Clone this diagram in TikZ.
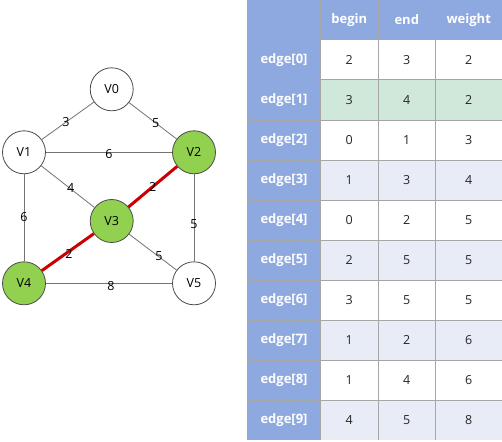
\documentclass[tikz,border=0pt]{standalone}
\usepackage{fontspec}
\setmainfont{Open Sans}
\begin{document}
\begin{tikzpicture}[x=1pt,y=-1pt,
  vtx/.style={circle,draw=black!70,line width=0.8pt,minimum size=43pt,inner sep=0pt,font=\fontsize{12.5}{12.5}\selectfont},
  edg/.style={draw=black!55,line width=0.8pt},
  redg/.style={draw=red!80!black,line width=3pt},
  wl/.style={font=\fontsize{12.5}{12.5}\selectfont,inner sep=0pt},
  hd/.style={font=\fontsize{13}{13}\selectfont\bfseries,text=white},
  cell/.style={font=\fontsize{12.5}{12.5}\selectfont,text=black!85}]
\definecolor{vgreen}{HTML}{92D050}
\definecolor{hblue}{HTML}{8EA9E0}
\definecolor{rowg}{HTML}{D0E8D9}
\definecolor{rowb}{HTML}{E8ECF7}
\definecolor{grid}{HTML}{A6A6A6}
\useasboundingbox (0,0) rectangle (502,441);
\fill[white] (0,0) rectangle (502,441);
% graph
\node[vtx,fill=white] (v0) at (111.7,89.3) {V0};
\node[vtx,fill=white] (v1) at (24,152.3) {V1};
\node[vtx,fill=vgreen] (v2) at (194,152.3) {V2};
\node[vtx,fill=vgreen] (v3) at (111.7,221) {V3};
\node[vtx,fill=vgreen] (v4) at (24,283.3) {V4};
\node[vtx,fill=white] (v5) at (194,283.3) {V5};
\draw[edg] (v0) -- (v1);
\draw[edg] (v0) -- (v2);
\draw[edg] (v1) -- (v2);
\draw[edg] (v1) -- (v3);
\draw[edg] (v1) -- (v4);
\draw[edg] (v2) -- (v5);
\draw[edg] (v3) -- (v5);
\draw[edg] (v4) -- (v5);
\draw[redg] (v2) -- (v3);
\draw[redg] (v3) -- (v4);
\node[wl] (l01) at (66,122.3) {3};
\node[wl] (l02) at (155.7,122.7) {5};
\node[wl] (l12) at (109,153.7) {6};
\node[wl] (l13) at (70.7,188.3) {4};
\node[wl] (l23) at (152.7,186.7) {2};
\node[wl] (l14) at (24,217.3) {6};
\node[wl] (l25) at (194,224) {5};
\node[wl] (l34) at (69,254) {2};
\node[wl] (l35) at (159,256) {5};
\node[wl] (l45) at (111,286) {8};
% table
\fill[hblue] (247,0) rectangle (502,40);
\fill[hblue] (247,40) rectangle (320.5,440);
\fill[rowg] (320.5,80) rectangle (502,120);
\foreach \r in {3,5,7,9}{
  \fill[rowb] (320.5,{40*(\r+1)}) rectangle (502,{40*(\r+2)});
}
\foreach \x in {247.5,320.5,378,435.5}{
  \draw[grid,line width=1pt] (\x,0) -- (\x,440);
}
\foreach \r in {1,...,10}{
  \draw[grid,line width=1pt] (247,{40*\r}) -- (502,{40*\r});
}
\node[hd] (hb) at (349.25,20) {begin};
\node[hd] (he) at (406.75,20) {end};
\node[hd] (hw) at (468.75,20) {weight};
\foreach \i/\b/\e/\w in {0/2/3/2,1/3/4/2,2/0/1/3,3/1/3/4,4/0/2/5,5/2/5/5,6/3/5/5,7/1/2/6,8/1/4/6,9/4/5/8}{
  \node[hd] (r\i) at (284,{60+40*\i}) {edge[\i]};
  \node[cell] (b\i) at (349.25,{60+40*\i}) {\b};
  \node[cell] (e\i) at (406.75,{60+40*\i}) {\e};
  \node[cell] (w\i) at (468.75,{60+40*\i}) {\w};
}
\end{tikzpicture}
\end{document}
